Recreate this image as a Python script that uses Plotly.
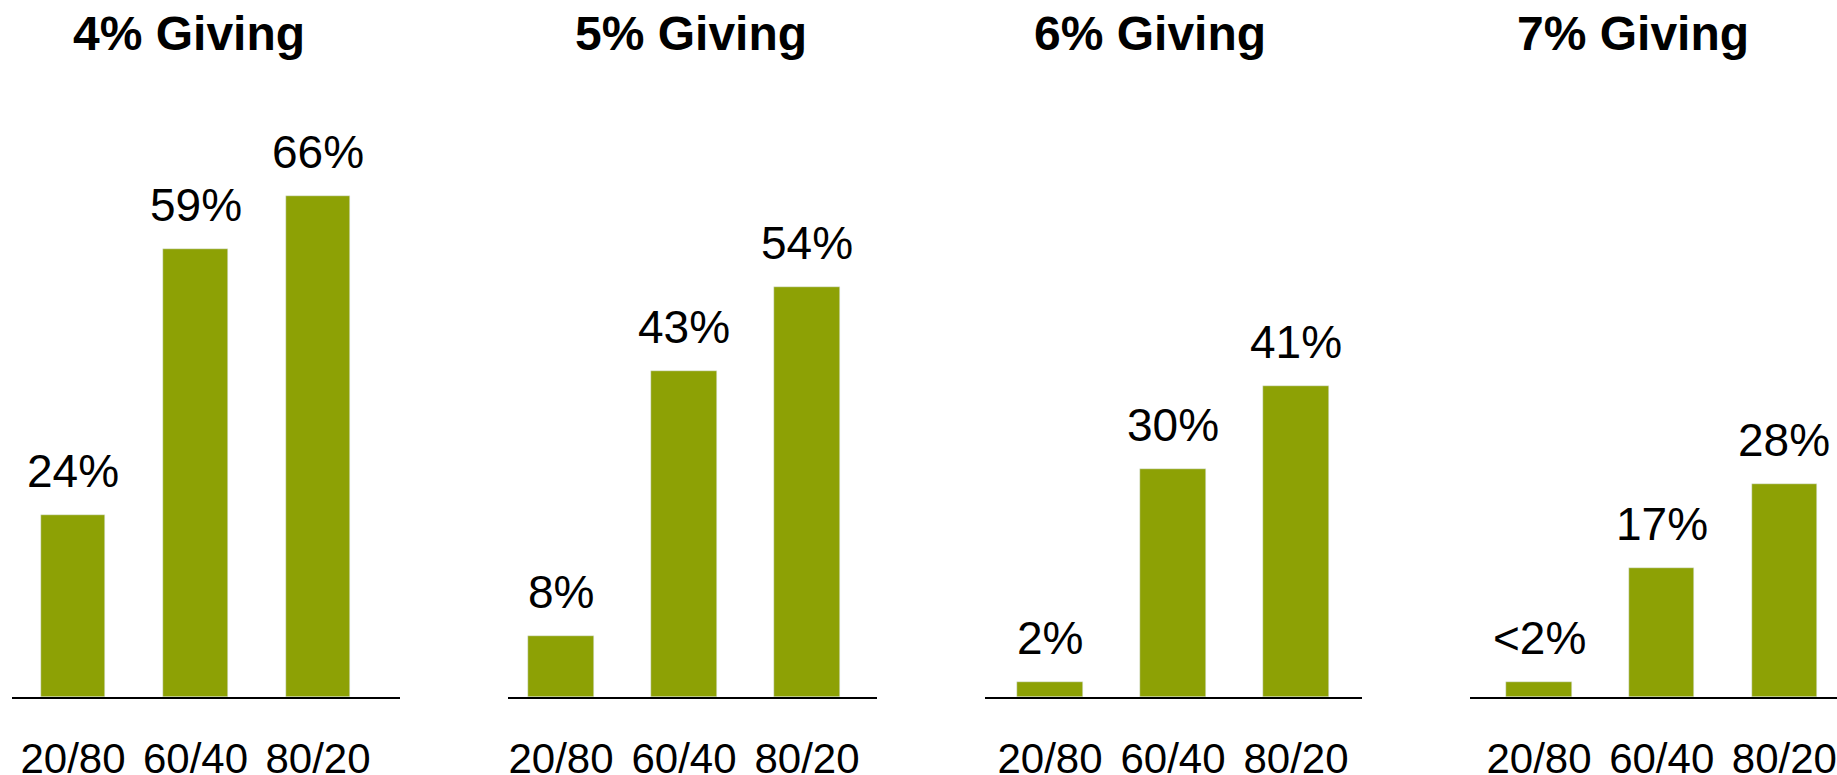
import plotly.graph_objects as go

categories = ["20/80", "60/40", "80/20"]
panel_titles = ["4% Giving", "5% Giving", "6% Giving", "7% Giving"]
values_4 = [24, 59, 66]
values_5 = [8, 43, 54]
values_6 = [2, 30, 41]
values_7 = [2, 17, 28]
labels_4 = ["24%", "59%", "66%"]
labels_5 = ["8%", "43%", "54%"]
labels_6 = ["2%", "30%", "41%"]
labels_7 = ["<2%", "17%", "28%"]

series = [values_4, values_5, values_6, values_7]
labels = [labels_4, labels_5, labels_6, labels_7]

W, H = 1837, 775
BAR = "#8DA105"
FONT = "Liberation Sans, Arial, sans-serif"

# layout geometry (pixels)
line_px = [(12, 400), (508, 877), (985, 1362), (1470, 1837)]
first_center = [73, 561, 1050, 1539]
spacing = [122.5, 123, 123, 122.7]
title_cx = [189, 691, 1150, 1633]
axis_y = 697
px_per_unit = 7.59

fig = go.Figure()
y_top = axis_y / px_per_unit
ydom0 = (H - axis_y) / H

for i in range(4):
    xa = "x" if i == 0 else f"x{i+1}"
    ya = "y" if i == 0 else f"y{i+1}"
    fig.add_trace(go.Bar(
        x=[0, 1, 2], y=series[i], marker_color=BAR, width=0.53,
        xaxis=xa, yaxis=ya, showlegend=False, hoverinfo="skip",
    ))
    l, r = line_px[i]
    c0, s = first_center[i], spacing[i]
    xr = [(l - c0) / s, (r - c0) / s]
    axname = "xaxis" if i == 0 else f"xaxis{i+1}"
    yname = "yaxis" if i == 0 else f"yaxis{i+1}"
    fig.update_layout({
        axname: dict(domain=[l / W, r / W], range=xr, anchor=ya,
                     tickmode="array", tickvals=[0, 1, 2], ticktext=categories,
                     showline=True, linecolor="black", linewidth=2,
                     showgrid=False, zeroline=False, ticks="",
                     ticklabelstandoff=24, automargin=False,
                     tickfont=dict(family=FONT, size=42, color="black"),
                     fixedrange=True),
        yname: dict(domain=[ydom0, 1], range=[0, y_top], anchor=xa,
                    visible=False, showgrid=False, zeroline=False,
                    automargin=False, fixedrange=True),
    })
    for j in range(3):
        fig.add_annotation(
            x=j, y=series[i][j], xref=xa, yref=ya, text=labels[i][j],
            showarrow=False, yanchor="bottom", yshift=16,
            font=dict(family=FONT, size=46, color="black"),
        )
    fig.add_annotation(
        x=title_cx[i] / W, y=1 - 34 / H, xref="paper", yref="paper",
        text="<b>" + panel_titles[i] + "</b>", showarrow=False,
        xanchor="center", yanchor="middle",
        font=dict(family=FONT, size=48, color="black"),
    )

fig.update_layout(
    width=W, height=H, margin=dict(l=0, r=0, t=0, b=0, autoexpand=False),
    paper_bgcolor="white", plot_bgcolor="white", bargap=0,
)
fig.write_html("out.html")
